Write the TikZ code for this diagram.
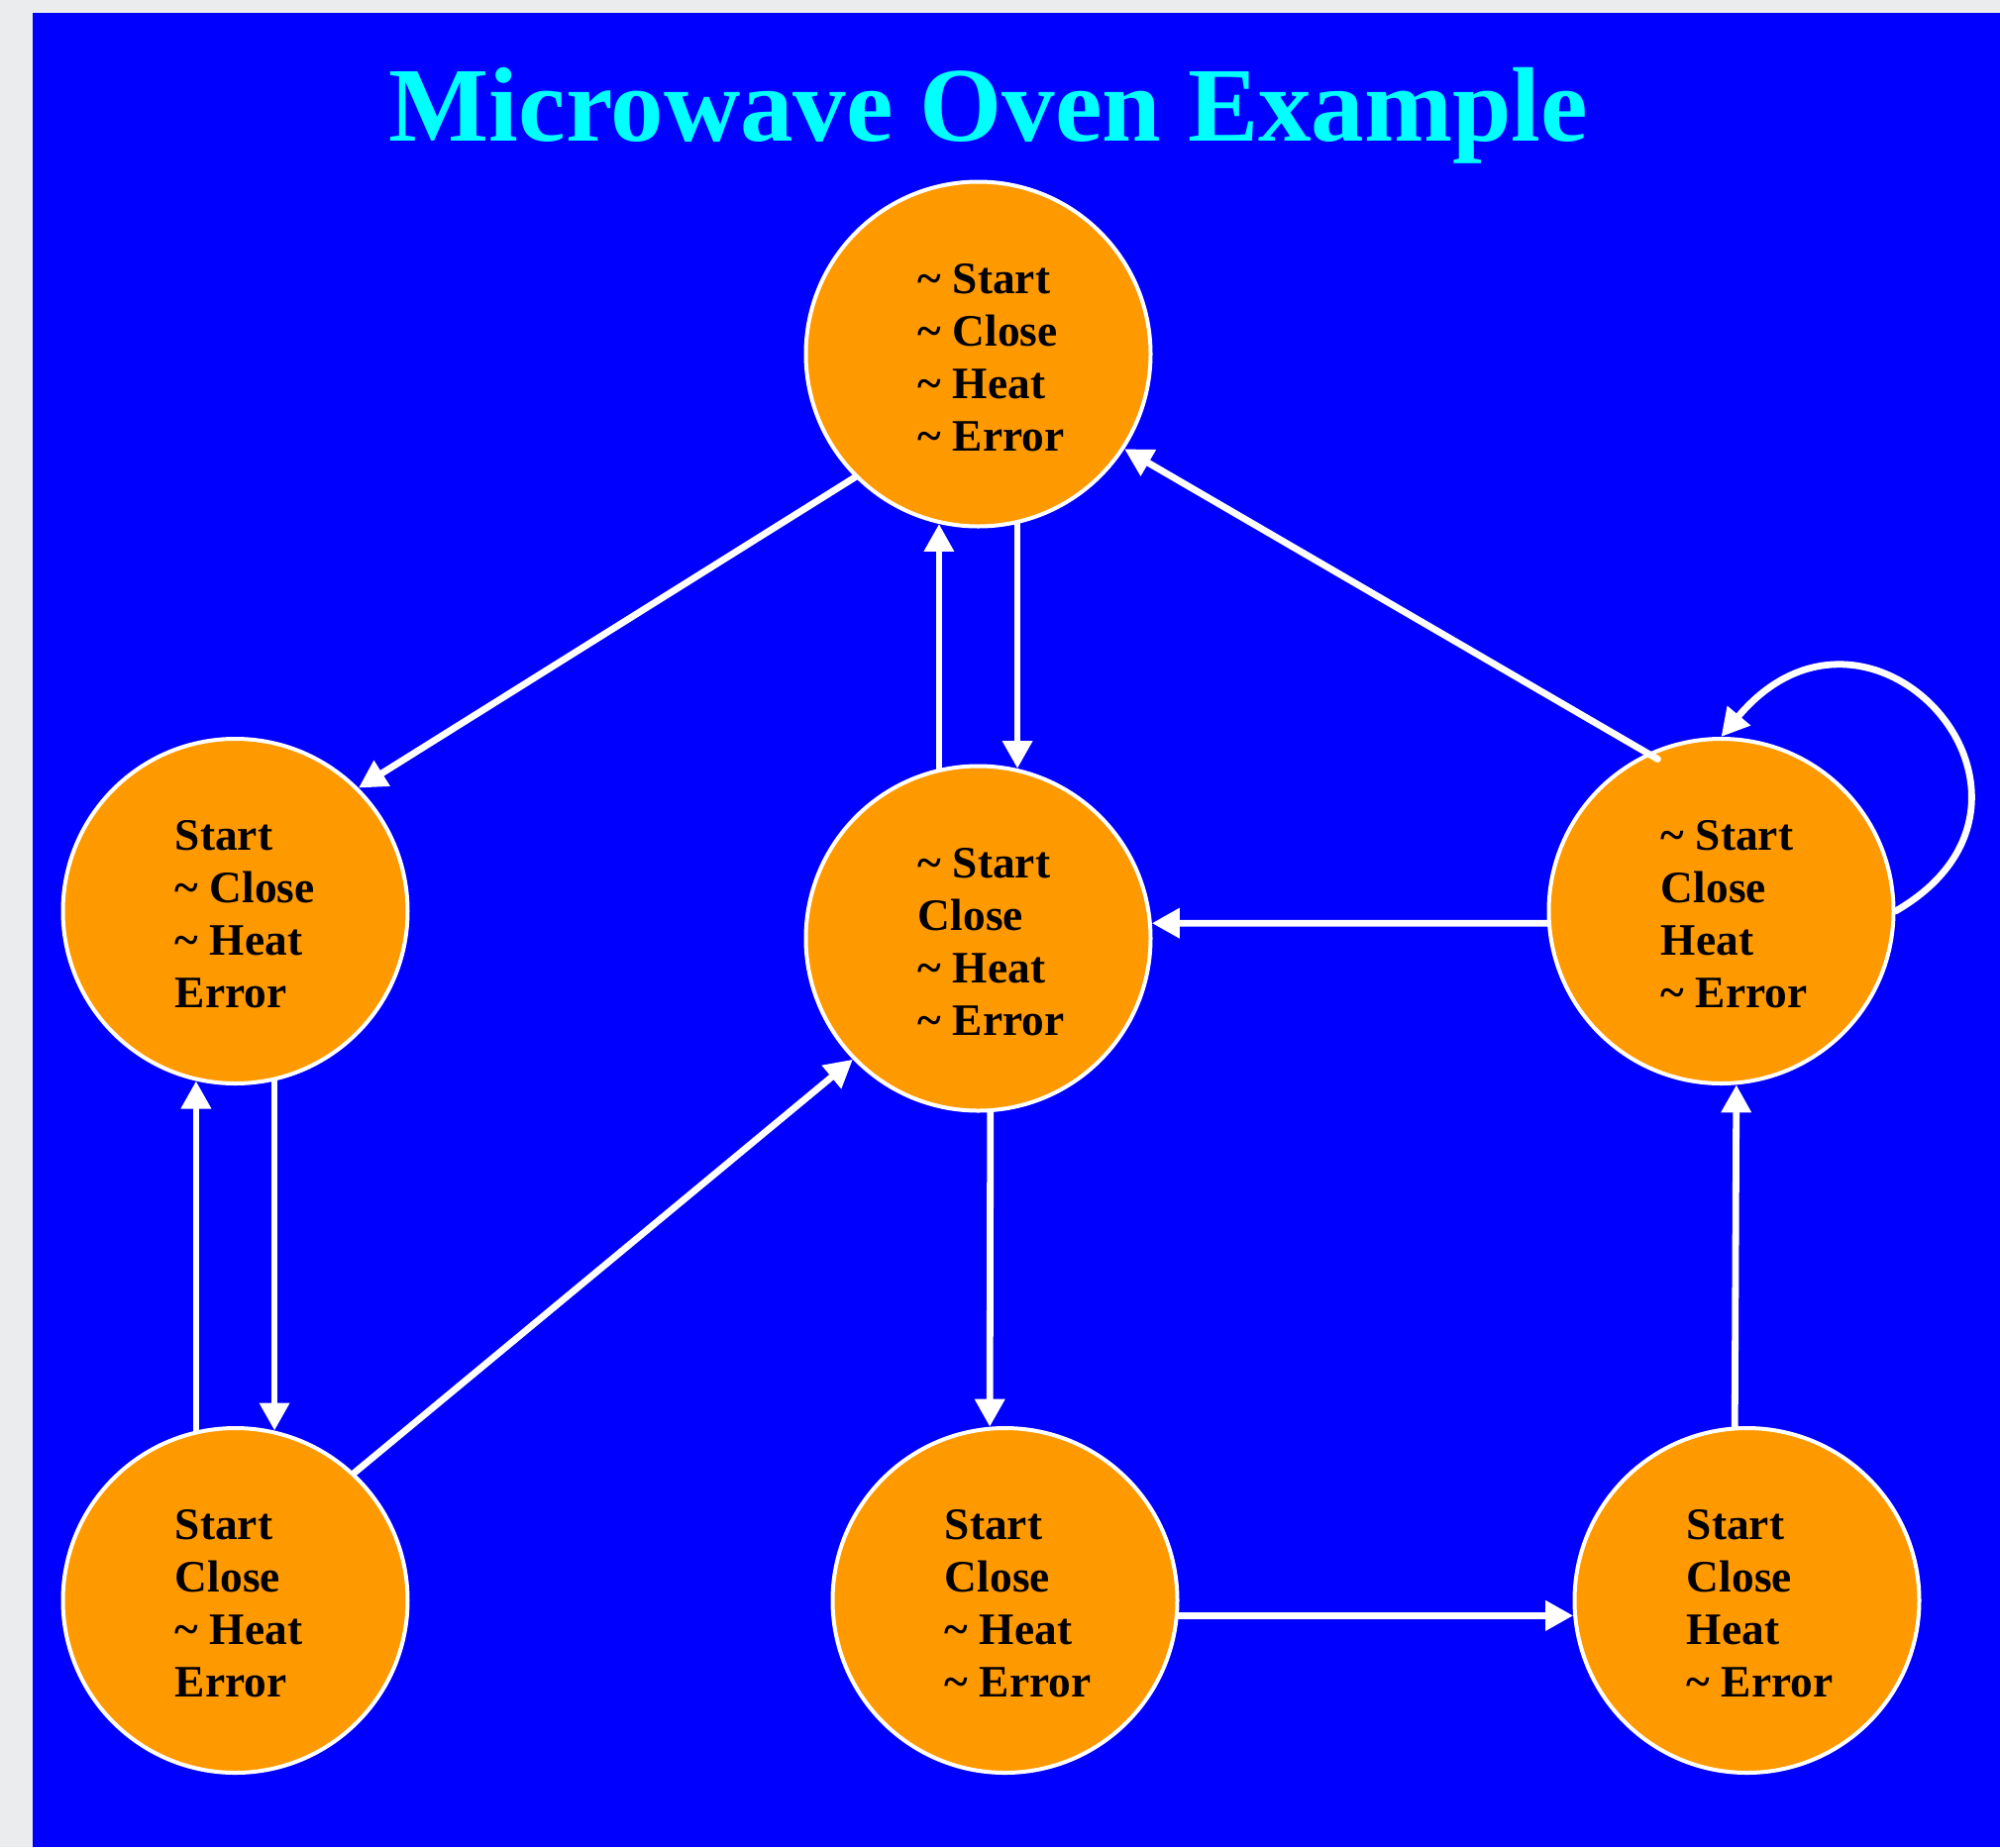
\documentclass[tikz,border=0pt]{standalone}
\usepackage{fontspec}
\setmainfont{Liberation Serif}
\usetikzlibrary{arrows.meta,calc}
\definecolor{bgblue}{RGB}{0,0,255}
\definecolor{stateorange}{RGB}{255,153,0}
\definecolor{titlecyan}{RGB}{0,255,255}
\definecolor{pagegray}{RGB}{235,236,238}
\begin{document}
\begin{tikzpicture}[x=0.5pt,y=-0.5pt,
  state/.style={circle, draw=white, line width=2pt, fill=stateorange, minimum size=174pt, inner sep=0pt},
  statetext/.style={anchor=west, align=left, inner sep=0pt, font=\fontsize{22.7}{26.5}\selectfont\bfseries, text=black},
  edge/.style={draw=white, line width=3.4pt, line cap=round, -{Triangle[length=14pt,width=14.5pt]}},
]
\fill[pagegray] (0,0) rectangle (2019,1865);
\fill[bgblue] (33,13) rectangle (2019,1865);
\useasboundingbox (0,0) rectangle (2019,1865);

\node[anchor=base, text=titlecyan, inner sep=0pt, font=\fontsize{53.5}{60}\selectfont\bfseries] (title) at (998,142.7) {Microwave Oven Example};

\node[state] (T) at (987.5,357.5) {};
\node[state] (L) at (237.5,920) {};
\node[state] (M) at (987.5,947.5) {};
\node[state] (R) at (1737.5,920) {};
\node[state] (BL) at (237.5,1616) {};
\node[state] (BM) at (1014.5,1616) {};
\node[state] (BR) at (1763.5,1616) {};

\node[statetext] (tT) at ($(T.center)+(-61,3.5)$) {\textasciitilde{} Start\\\textasciitilde{} Close\\\textasciitilde{} Heat\\\textasciitilde{} Error};
\node[statetext] (tL) at ($(L.center)+(-61,3.5)$) {Start\\\textasciitilde{} Close\\\textasciitilde{} Heat\\Error};
\node[statetext] (tM) at ($(M.center)+(-61,3.5)$) {\textasciitilde{} Start\\Close\\\textasciitilde{} Heat\\\textasciitilde{} Error};
\node[statetext] (tR) at ($(R.center)+(-61,3.5)$) {\textasciitilde{} Start\\Close\\Heat\\\textasciitilde{} Error};
\node[statetext] (tBL) at ($(BL.center)+(-61,3.5)$) {Start\\Close\\\textasciitilde{} Heat\\Error};
\node[statetext] (tBM) at ($(BM.center)+(-61,3.5)$) {Start\\Close\\\textasciitilde{} Heat\\\textasciitilde{} Error};
\node[statetext] (tBR) at ($(BR.center)+(-61,3.5)$) {Start\\Close\\Heat\\\textasciitilde{} Error};

\draw[edge] (T.225) -- (L.45);
\draw[edge] (M.103) -- (T.257);
\draw[edge] (T.283) -- (M.77);
\draw[edge, shorten <=-6pt] (R.115) -- (T.327);
\draw[edge] (R.184) -- (M.5);
\draw[edge] (BL.103) -- (L.257);
\draw[edge] (L.283) -- (BL.77);
\draw[edge] (BL.47) -- (M.224);
\draw[edge] (M.274) -- (BM.95);
\draw[edge] (BM.355) -- (BR.185);
\draw[edge] (BR.94) -- (R.275);
\draw[edge] (R.0) .. controls +(30:112pt) and +(50:118pt) .. (R.90);
\end{tikzpicture}
\end{document}
